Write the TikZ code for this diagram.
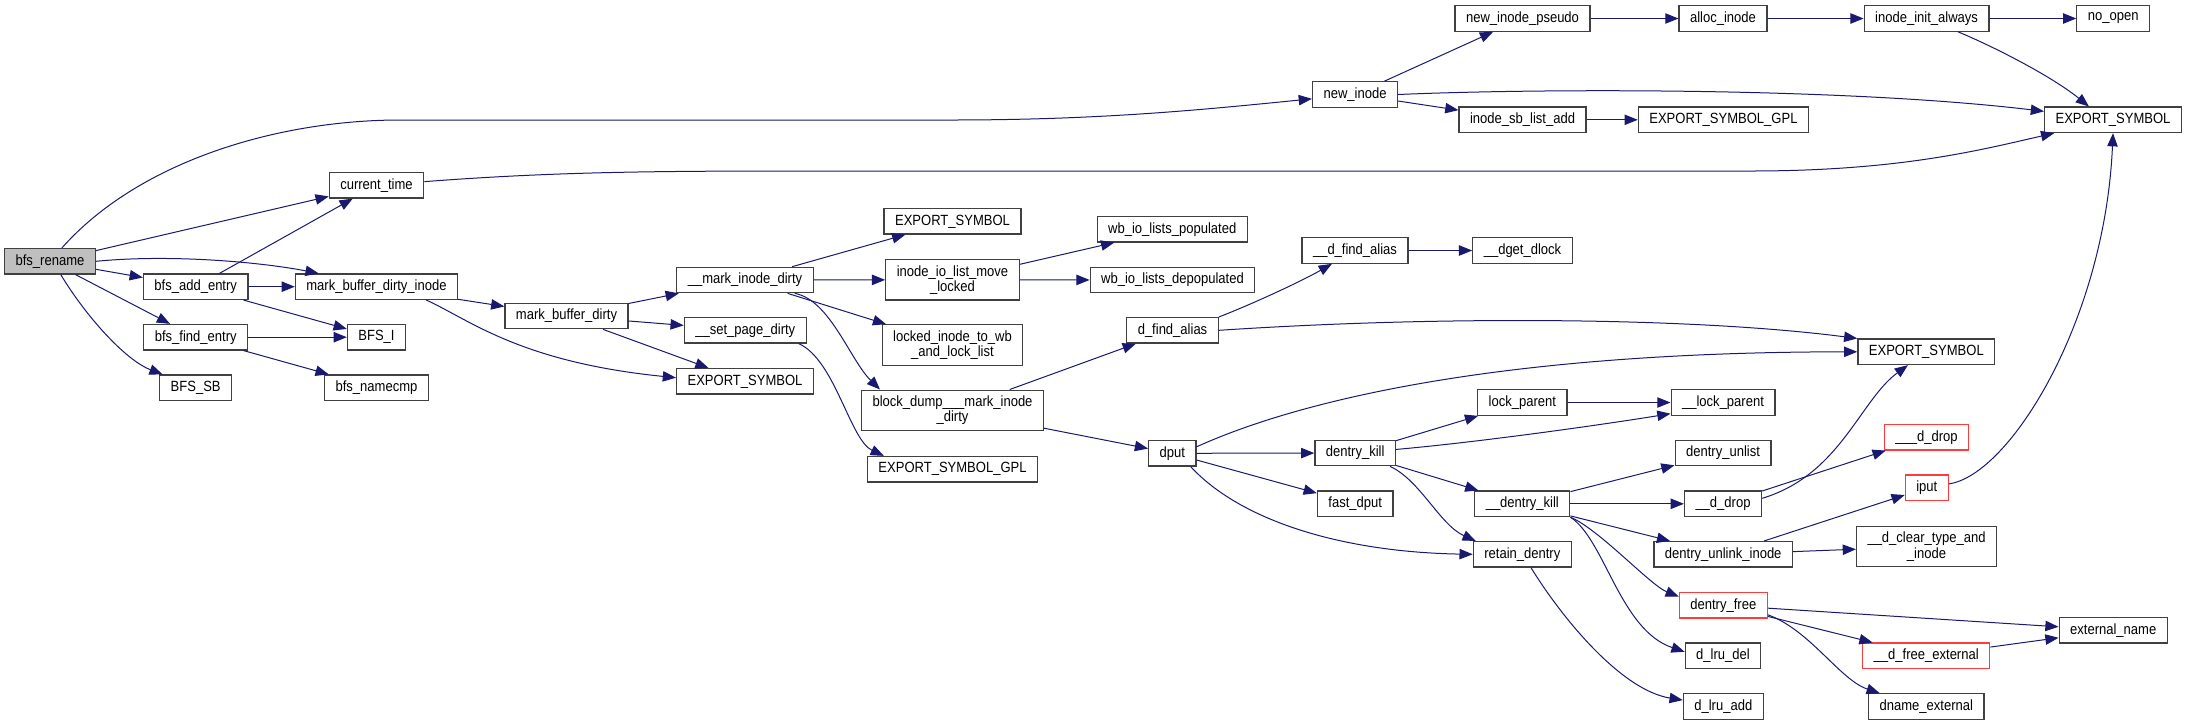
\documentclass[tikz,border=0pt]{standalone}
\usepackage{fontspec}
\setmainfont{Liberation Sans}[FakeStretch=0.88]
\usetikzlibrary{arrows.meta}
\definecolor{callblue}{HTML}{191970}
\definecolor{boxgray}{HTML}{404040}
\definecolor{rootgray}{HTML}{BFBFBF}
\definecolor{missred}{HTML}{FF3B3B}

\begin{document}
\begin{tikzpicture}[
    x=0.5pt, y=-0.5pt,
    >={Triangle[length=6.6pt,width=5.2pt]},
    fn/.style={draw=boxgray, line width=0.6pt, fill=white, minimum height=12.75pt, inner xsep=5.5pt, inner ysep=1pt, align=center},
    fntwo/.style={fn, minimum height=20.2pt},
    root/.style={fn, fill=rootgray},
    miss/.style={fn, draw=missred},
    call/.style={->, draw=callblue, line width=0.5pt},
    every node/.style={font=\fontsize{7.4}{7.6}\selectfont}
  ]
  \useasboundingbox (0,0) rectangle (2188,725);

  % left part
  \node[root] (rename) at (50,261.3) {bfs\_rename};
  \node[fn] (curtime) at (376.5,185.3) {current\_time};
  \node[fn] (addentry) at (195.7,286.7) {bfs\_add\_entry};
  \node[fn] (mbdi) at (376.5,286.7) {mark\_buffer\_dirty\_inode};
  \node[fn] (findentry) at (195.7,337.2) {bfs\_find\_entry};
  \node[fn] (bfsi) at (376.5,337.2) {BFS\_I};
  \node[fn] (bfssb) at (195.7,387.7) {BFS\_SB};
  \node[fn] (namecmp) at (376.5,387.7) {bfs\_namecmp};
  \node[fn] (mbd) at (566.5,316) {mark\_buffer\_dirty};

  % middle part
  \node[fn] (mid) at (745,280) {\_\_mark\_inode\_dirty};
  \node[fn] (spd) at (745.3,330.3) {\_\_set\_page\_dirty};
  \node[fn] (expA) at (745,381.3) {EXPORT\_SYMBOL};
  \node[fn] (expB) at (952.5,221.3) {EXPORT\_SYMBOL};
  \node[fntwo] (iolml) at (952.5,279.8) {inode\_io\_list\_move\\\_locked};
  \node[fntwo] (litw) at (952.5,345) {locked\_inode\_to\_wb\\\_and\_lock\_list};
  \node[fntwo] (bdump) at (952.5,410.3) {block\_dump\_\_\_mark\_inode\\\_dirty};
  \node[fn] (expgplA) at (952.5,469.2) {EXPORT\_SYMBOL\_GPL};
  \node[fn] (wbpop) at (1172.2,229.2) {wb\_io\_lists\_populated};
  \node[fn] (wbdepop) at (1172.5,280) {wb\_io\_lists\_depopulated};
  \node[fn] (dfa) at (1172.5,330.3) {d\_find\_alias};
  \node[fn] (dput) at (1172.3,453.3) {dput};
  \node[fn] (ddfa) at (1355,250.5) {\_\_d\_find\_alias};
  \node[fn] (dget) at (1522.5,250.5) {\_\_dget\_dlock};

  % top part
  \node[fn] (newinode) at (1355,94.5) {new\_inode};
  \node[fn] (nip) at (1522.5,18.5) {new\_inode\_pseudo};
  \node[fn] (allocinode) at (1723,18.5) {alloc\_inode};
  \node[fn] (iia) at (1926.6,18.5) {inode\_init\_always};
  \node[fn] (noopen) at (2113.2,18.5) {no\_open};
  \node[fn] (isla) at (1522.5,119.8) {inode\_sb\_list\_add};
  \node[fn] (expgplB) at (1723.4,119.8) {EXPORT\_SYMBOL\_GPL};
  \node[fn] (expC) at (2113,119.8) {EXPORT\_SYMBOL};

  % right part
  \node[fn] (expD) at (1926.3,351.8) {EXPORT\_SYMBOL};
  \node[fn] (lockparent) at (1522.3,402.5) {lock\_parent};
  \node[fn] (ulockparent) at (1723,402.5) {\_\_lock\_parent};
  \node[fn] (dkill) at (1355.2,453) {dentry\_kill};
  \node[fn] (dunlist) at (1723,453) {dentry\_unlist};
  \node[fn] (fastdput) at (1355.2,503.7) {fast\_dput};
  \node[fn] (udkill) at (1522.3,503.8) {\_\_dentry\_kill};
  \node[fn] (retain) at (1522.3,554.3) {retain\_dentry};
  \node[fn] (uddrop) at (1723,503.8) {\_\_d\_drop};
  \node[miss] (uuddrop) at (1926.5,437.2) {\_\_\_d\_drop};
  \node[miss] (iput) at (1926.8,487.8) {iput};
  \node[fn] (dui) at (1723.2,554.3) {dentry\_unlink\_inode};
  \node[fntwo] (dcti) at (1926.5,546.5) {\_\_d\_clear\_type\_and\\\_inode};
  \node[miss] (dfree) at (1723.3,605.3) {dentry\_free};
  \node[fn] (lrudel) at (1723,655.8) {d\_lru\_del};
  \node[fn] (lruadd) at (1723.3,706.5) {d\_lru\_add};
  \node[miss] (dfe) at (1926.2,655.8) {\_\_d\_free\_external};
  \node[fn] (dnext) at (1926.3,706.5) {dname\_external};
  \node[fn] (extname) at (2113.2,630.3) {external\_name};

  % calls from the left part
  \draw[call] (rename) .. controls (140,160) and (280,120) .. (400,120) -- (950,120) .. controls (1100,120) and (1200,110) .. (newinode);
  \draw[call] (rename) -- (curtime);
  \draw[call] (rename.east) .. controls (170,254) and (260,262) .. (mbdi.167);
  \draw[call] (rename) -- (addentry);
  \draw[call] (rename) -- (findentry);
  \draw[call] (rename.-51) .. controls (85,315) and (125,360) .. (bfssb.158);
  \draw[call] (addentry) -- (curtime);
  \draw[call] (addentry) -- (mbdi);
  \draw[call] (addentry) -- (bfsi);
  \draw[call] (findentry) -- (bfsi);
  \draw[call] (findentry) -- (namecmp);
  \draw[call] (curtime) .. controls (550,172) and (650,171) .. (800,171) -- (1750,171) .. controls (1900,171) and (1980,150) .. (expC);
  \draw[call] (mbdi) -- (mbd);
  \draw[call] (mbdi.-15) .. controls (470,320) and (520,362) .. (expA.177);
  \draw[call] (mbd) -- (mid);
  \draw[call] (mbd) -- (spd);
  \draw[call] (mbd) -- (expA);

  % calls from the middle part
  \draw[call] (mid) -- (expB);
  \draw[call] (mid) -- (iolml);
  \draw[call] (mid) -- (litw);
  \draw[call] (mid.-15) .. controls (830,300) and (850,360) .. (bdump.164);
  \draw[call] (spd.-14) .. controls (835,360) and (850,440) .. (expgplA.169);
  \draw[call] (iolml) -- (wbpop);
  \draw[call] (iolml) -- (wbdepop);
  \draw[call] (bdump) -- (dfa);
  \draw[call] (bdump) -- (dput);
  \draw[call] (dfa.north east) .. controls (1250,305) and (1300,282) .. (ddfa.-150);
  \draw[call] (dfa.east) .. controls (1450,315) and (1700,318) .. (expD.north west);
  \draw[call] (ddfa) -- (dget);

  % calls from dput on
  \draw[call] (dput.15) .. controls (1300,400) and (1500,352) .. (expD.west);
  \draw[call] (dput) -- (dkill);
  \draw[call] (dput) -- (fastdput);
  \draw[call] (dput.-36) .. controls (1240,520) and (1340,552) .. (retain.west);
  \draw[call] (dkill) -- (lockparent);
  \draw[call] (dkill.5) .. controls (1480,442) and (1600,425) .. (ulockparent.-168);
  \draw[call] (dkill) -- (udkill);
  \draw[call] (dkill.-21) .. controls (1420,480) and (1440,525) .. (retain.164);
  \draw[call] (lockparent) -- (ulockparent);
  \draw[call] (udkill) -- (dunlist);
  \draw[call] (udkill) -- (uddrop);
  \draw[call] (udkill) -- (dui);
  \draw[call] (udkill.south east) .. controls (1600,530) and (1650,585) .. (dfree.169);
  \draw[call] (udkill.south east) .. controls (1605,540) and (1620,630) .. (lrudel.174);
  \draw[call] (retain.-57) .. controls (1560,615) and (1620,690) .. (lruadd.171);
  \draw[call] (uddrop) -- (uuddrop);
  \draw[call] (uddrop.8) .. controls (1840,475) and (1860,400) .. (expD.-144);
  \draw[call] (dui) -- (iput);
  \draw[call] (dui) -- (dcti);
  \draw[call] (iput.10) .. controls (2010,475) and (2105,320) .. (expC.south);
  \draw[call] (dfree) -- (extname);
  \draw[call] (dfree) -- (dfe);
  \draw[call] (dfree.-12) .. controls (1810,630) and (1840,680) .. (dnext.164);
  \draw[call] (dfe) -- (extname);

  % calls from the top part
  \draw[call] (newinode) -- (nip);
  \draw[call] (newinode) -- (isla);
  \draw[call] (newinode.east) .. controls (1550,88) and (1850,88) .. (expC.173);
  \draw[call] (nip) -- (allocinode);
  \draw[call] (allocinode) -- (iia);
  \draw[call] (iia) -- (noopen);
  \draw[call] (iia.-23) .. controls (1990,45) and (2050,75) .. (expC.151);
  \draw[call] (isla) -- (expgplB);
\end{tikzpicture}
\end{document}
